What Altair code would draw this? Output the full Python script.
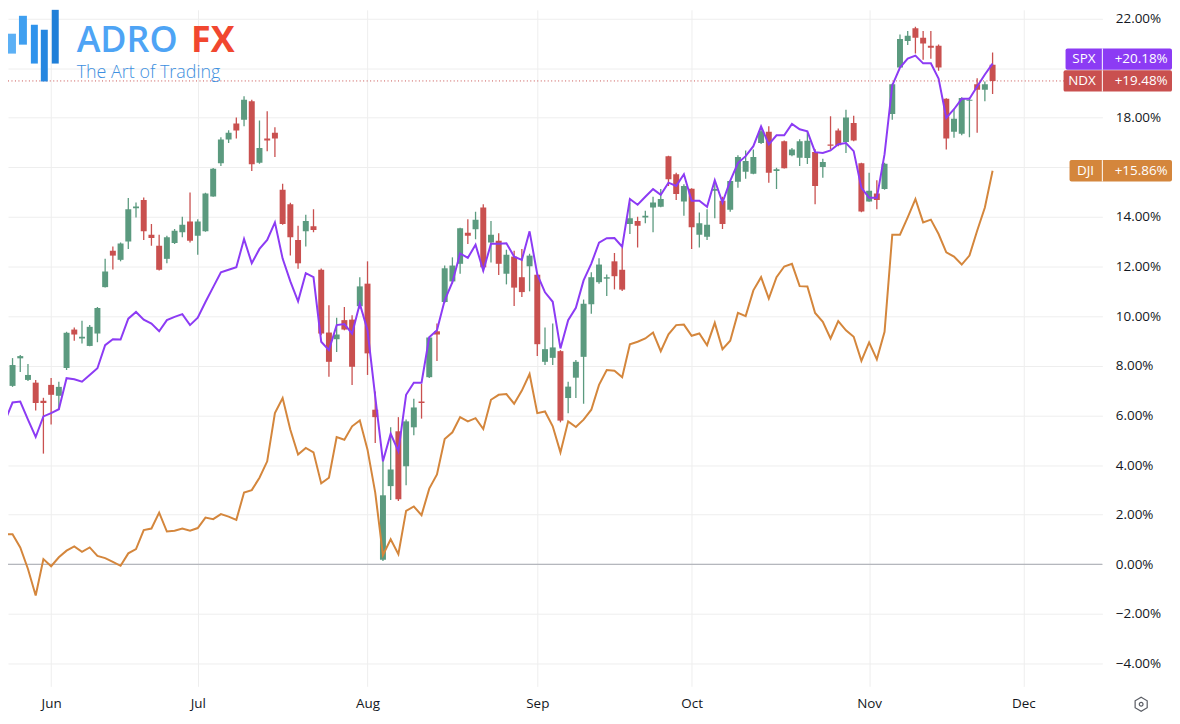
import altair as alt
import pandas as pd

# ---------------- data (percent change) ----------------
ndx_open = [8.60, 7.19, 8.30, 7.43, 7.32, 6.59, 7.23, 6.79, 7.91, 9.46,
            9.10, 8.80, 9.30, 11.17, 12.64, 12.27, 13.01, 14.35, 14.68, 13.28,
            12.84, 12.31, 12.95, 13.38, 13.82, 13.24, 13.42, 14.82, 16.16, 17.12,
            17.76, 17.92, 18.66, 16.18, 17.16, 17.39, 15.09, 14.51, 13.07, 13.42,
            13.62, 11.87, 9.34, 9.07, 9.84, 9.86, 10.40, 11.31, 6.23, 0.18,
            3.15, 5.36, 3.95, 5.52, 6.56, 7.54, 9.39, 10.57, 11.40, 12.11,
            13.36, 13.50, 14.38, 12.97, 13.04, 11.71, 12.40, 11.57, 12.01, 11.67,
            8.16, 8.32, 8.59, 6.70, 7.52, 8.36, 10.48, 11.37, 11.51, 12.21,
            11.87, 13.71, 13.84, 13.98, 14.38, 14.41, 16.45, 15.72, 14.62, 15.14,
            13.28, 13.20, 15.05, 14.65, 14.29, 15.42, 15.82, 15.74, 16.98, 17.43,
            15.85, 17.05, 16.49, 16.38, 16.37, 16.62, 16.01, 16.92, 17.48, 17.02,
            17.79, 16.16, 14.62, 14.94, 15.12, 18.15, 20.02, 21.09, 21.60, 21.22,
            20.90, 20.90, 18.76, 17.43, 17.35, 18.68, 19.35, 19.13, 20.13]
ndx_high = [8.71, 8.31, 8.43, 8.07, 7.43, 6.71, 7.51, 7.36, 9.37, 9.54,
            9.81, 9.64, 10.37, 12.31, 12.81, 12.97, 14.76, 14.58, 14.78, 13.71,
            13.28, 13.24, 13.51, 14.01, 14.98, 13.91, 14.97, 15.97, 17.21, 17.49,
            18.01, 18.86, 18.72, 17.89, 18.26, 17.61, 15.34, 14.57, 13.64, 14.09,
            14.31, 11.92, 10.44, 9.94, 10.37, 10.04, 11.57, 12.21, 6.96, 4.22,
            5.52, 5.93, 5.83, 6.67, 7.27, 9.17, 9.70, 12.04, 12.37, 13.56,
            13.91, 14.21, 14.51, 13.84, 13.34, 12.68, 12.64, 12.71, 12.52, 11.72,
            9.54, 9.70, 8.63, 7.36, 8.23, 10.67, 11.77, 12.33, 11.68, 12.55,
            12.77, 14.58, 14.01, 14.25, 14.81, 15.12, 16.47, 15.78, 15.32, 15.16,
            14.18, 14.31, 15.45, 14.81, 15.48, 16.49, 16.68, 16.72, 17.65, 17.65,
            15.98, 17.08, 16.78, 17.13, 17.45, 16.73, 16.34, 18.06, 17.56, 18.32,
            18.08, 16.18, 15.78, 15.48, 16.18, 19.38, 21.35, 21.49, 21.66, 21.49,
            21.49, 20.95, 18.78, 18.36, 18.82, 18.82, 19.59, 19.46, 20.63]
ndx_low = [6.83, 7.15, 7.75, 7.39, 6.20, 4.46, 5.63, 6.23, 7.83, 9.01,
           8.90, 8.79, 8.95, 11.16, 11.88, 12.21, 12.71, 13.98, 13.07, 12.84,
           11.84, 12.13, 12.91, 13.18, 12.97, 12.48, 13.40, 14.81, 16.05, 16.98,
           17.16, 17.65, 15.85, 16.14, 16.65, 16.41, 13.68, 12.44, 11.91, 12.81,
           13.38, 9.23, 7.56, 8.56, 9.43, 7.23, 10.30, 7.63, 4.89, 0.13,
           2.59, 2.55, 3.18, 5.20, 5.87, 7.51, 8.19, 10.53, 11.31, 11.71,
           12.91, 13.10, 11.80, 12.16, 11.66, 11.28, 10.41, 10.77, 11.00, 8.39,
           8.03, 8.03, 5.72, 6.09, 6.70, 6.47, 10.10, 11.31, 10.81, 11.08,
           11.01, 13.31, 12.77, 13.74, 13.38, 14.39, 15.25, 14.68, 14.05, 12.71,
           12.77, 13.07, 13.95, 13.51, 14.21, 15.18, 15.54, 15.72, 16.94, 15.38,
           15.12, 15.95, 16.45, 16.05, 16.13, 14.51, 15.58, 16.72, 16.85, 16.58,
           17.05, 14.19, 14.61, 14.31, 15.09, 17.92, 20.00, 20.93, 20.59, 20.33,
           20.37, 19.89, 16.72, 17.19, 17.29, 17.21, 17.39, 18.66, 18.95]
ndx_close = [6.96, 8.03, 8.39, 7.63, 6.50, 6.50, 6.83, 7.15, 9.33, 9.26,
             9.17, 9.57, 10.33, 11.80, 12.44, 12.93, 14.31, 14.42, 13.42, 13.15,
             11.87, 13.18, 13.44, 13.68, 13.04, 13.82, 14.94, 15.94, 17.12, 17.39,
             17.48, 18.72, 16.12, 16.78, 17.08, 17.16, 13.71, 13.18, 12.13, 13.84,
             13.47, 9.30, 8.16, 9.26, 9.46, 7.96, 11.20, 8.50, 5.93, 2.78,
             3.82, 2.62, 5.76, 6.32, 6.50, 9.14, 9.26, 11.93, 12.04, 13.54,
             13.24, 13.89, 11.97, 13.28, 12.11, 12.48, 11.15, 10.97, 12.44, 8.87,
             8.67, 8.74, 5.79, 7.16, 8.16, 10.50, 11.57, 12.08, 11.57, 11.61,
             11.07, 13.95, 13.64, 14.05, 14.58, 14.72, 15.52, 14.92, 15.25, 13.58,
             13.74, 13.68, 15.12, 13.71, 15.45, 16.41, 16.25, 16.41, 17.45, 15.78,
             15.92, 15.96, 16.72, 17.05, 17.07, 15.25, 16.21, 16.87, 16.89, 18.01,
             17.08, 14.22, 15.05, 14.68, 16.14, 19.35, 21.17, 21.30, 21.22, 20.99,
             20.82, 20.02, 17.16, 17.96, 18.79, 18.72, 19.13, 19.35, 19.48]
spx = [5.76, 6.52, 6.56, 5.83, 5.13, 5.96, 6.09, 6.25, 7.50, 7.46,
       7.36, 7.63, 7.90, 8.83, 9.07, 9.06, 9.90, 10.17, 9.86, 9.70,
       9.39, 9.84, 9.97, 10.08, 9.64, 9.94, 10.57, 11.17, 11.77, 11.87,
       11.97, 13.11, 12.13, 12.71, 13.07, 13.78, 12.32, 11.40, 10.60, 11.73,
       11.57, 8.97, 8.63, 9.64, 9.68, 9.30, 10.50, 9.43, 6.76, 4.15,
       5.26, 4.56, 6.83, 7.32, 7.32, 9.15, 9.43, 10.64, 11.37, 12.53,
       12.35, 12.88, 11.83, 12.92, 12.92, 12.94, 12.40, 12.27, 13.42, 11.68,
       10.96, 10.58, 8.70, 9.84, 10.34, 11.44, 12.12, 12.96, 13.14, 13.15,
       12.80, 14.72, 14.49, 14.81, 15.12, 14.89, 15.38, 15.25, 15.72, 14.65,
       14.65, 14.41, 15.48, 14.58, 15.45, 16.17, 16.45, 16.85, 17.65, 16.92,
       17.29, 17.29, 17.75, 17.53, 17.45, 16.61, 16.58, 16.68, 16.93, 16.98,
       16.65, 15.17, 14.77, 14.77, 16.53, 19.30, 20.02, 20.38, 20.50, 20.19,
       20.19, 19.58, 17.99, 18.34, 18.76, 18.76, 19.26, 19.74, 20.18]
dji = [1.21, 1.21, 0.68, -0.19, -1.26, 0.21, -0.08, 0.28, 0.55, 0.72,
       0.50, 0.68, 0.34, 0.25, 0.10, -0.06, 0.44, 0.61, 1.38, 1.44,
       2.08, 1.32, 1.35, 1.44, 1.35, 1.46, 1.88, 1.82, 2.02, 1.92,
       1.79, 2.89, 2.99, 3.49, 4.15, 6.09, 6.70, 5.42, 4.42, 4.69,
       4.51, 3.26, 3.49, 5.13, 5.02, 5.56, 5.80, 4.62, 2.89, 0.37,
       1.01, 0.41, 2.15, 2.33, 1.98, 3.05, 3.62, 5.05, 5.32, 5.93,
       5.76, 5.89, 5.45, 6.63, 6.83, 6.86, 6.47, 7.00, 7.67, 6.09,
       6.16, 5.56, 4.51, 5.76, 5.53, 5.83, 6.23, 7.23, 7.83, 7.80,
       7.54, 8.87, 8.97, 9.10, 9.34, 8.59, 9.27, 9.64, 9.66, 9.21,
       9.30, 8.83, 9.73, 8.67, 9.01, 10.13, 10.00, 11.04, 11.57, 10.71,
       11.57, 12.00, 12.11, 11.21, 11.20, 10.13, 9.77, 9.10, 9.80, 9.43,
       9.17, 8.20, 8.94, 8.26, 9.37, 13.28, 13.28, 13.98, 14.72, 13.78,
       13.89, 13.31, 12.57, 12.40, 12.08, 12.44, 13.44, 14.38, 15.86]

month_ticks = [6, 25, 47, 69, 89, 112, 132]
month_labels = ["Jun", "Jul", "Aug", "Sep", "Oct", "Nov", "Dec"]
y_ticks = [-4, -2, 0, 2, 4, 6, 8, 10, 12, 14, 16, 18, 20, 22]
hidden_ticks = [16, 20]   # covered by the price badges in the reference

badge_names = ["SPX", "NDX", "DJI"]
badge_values = [20.18, 19.48, 15.86]
badge_texts = ["+20.18%", "+19.48%", "+15.86%"]

# ---------------- styles ----------------
GREEN = "#5b9a7f"
RED = "#c9504f"
PURPLE = "#8c3bf4"
ORANGE = "#d4863c"
GRID = "#eeeeee"
TXT = "#131722"
FONT = "Open Sans"
W, H = 1100, 680

df = pd.DataFrame({
    "i": list(range(len(ndx_close))),
    "open": ndx_open, "high": ndx_high, "low": ndx_low, "close": ndx_close,
    "spx": spx, "dji": dji,
})

x_expr = " : ".join(f"datum.value == {t} ? '{l}'" for t, l in zip(month_ticks, month_labels)) + " : ''"
hide_expr = " || ".join(f"datum.value == {h}" for h in hidden_ticks)
x_scale = alt.Scale(domain=[1.0565, 141.58], nice=False, zero=False)
x_axis = alt.Axis(values=month_ticks, labelExpr=x_expr, grid=True, gridColor=GRID,
                  domain=False, ticks=False, labelPadding=10, labelFontSize=13.5,
                  labelFont=FONT, labelColor=TXT, title=None, labelFlush=False)
y_scale = alt.Scale(domain=[-4.92, 22.346], nice=False, zero=False)
y_axis = alt.Axis(orient="right", values=y_ticks,
                  labelExpr=f"({hide_expr}) ? '' : format(datum.value, '.2f') + '%'",
                  grid=True, gridColor=GRID, domain=False, ticks=False, labelPadding=13,
                  labelFontSize=13.5, labelFont=FONT, labelColor=TXT, title=None,
                  labelFlush=False)

X = alt.X("i:Q", scale=x_scale, axis=x_axis)


def Y(field):
    return alt.Y(field, scale=y_scale, axis=y_axis)


up = alt.condition("datum.close >= datum.open", alt.value(GREEN), alt.value(RED))

base = alt.Chart(df)
wicks = base.mark_rule(strokeWidth=1.3, clip=True).encode(x=X, y=Y("low:Q"), y2="high:Q", color=up)
bodies = base.mark_bar(size=6, clip=True).encode(x=X, y=Y("open:Q"), y2="close:Q", color=up)
spx_line = base.mark_line(color=PURPLE, strokeWidth=2, clip=True).encode(x=X, y=Y("spx:Q"))
dji_line = base.mark_line(color=ORANGE, strokeWidth=2, clip=True).encode(x=X, y=Y("dji:Q"))

zero_df = pd.DataFrame({"v": [0.0]})
zero_rule = alt.Chart(zero_df).mark_rule(color="#a3a6ad", strokeWidth=1).encode(y=Y("v:Q"))

last_df = pd.DataFrame({"v": [ndx_close[-1]]})
dotted = alt.Chart(last_df).mark_rule(color=RED, strokeWidth=1, strokeDash=[1, 2.5]).encode(
    x=alt.value(0), x2=alt.value(1062), y=Y("v:Q"))

# ---------------- badges on the price scale ----------------
badge_colors = [PURPLE, RED, ORANGE]
badge_left = [1063, 1061, 1067]
badge_shift = [-4.5, 0, 0]
name_center = [1081.5, 1079.5, 1083]
half = 0.43
badge_layers = []
for nm, val, txt, col, lft, sh, nc in zip(badge_names, badge_values, badge_texts,
                                          badge_colors, badge_left, badge_shift, name_center):
    bd = pd.DataFrame({"top": [val + half], "bot": [val - half], "v": [val]})
    c = alt.Chart(bd)
    badge_layers.append(c.mark_rect(color=col, cornerRadius=2, yOffset=sh, y2Offset=sh).encode(
        x=alt.value(lft), x2=alt.value(1170), y=Y("top:Q"), y2="bot:Q"))
    badge_layers.append(c.mark_rule(color="white", strokeWidth=1, yOffset=sh, y2Offset=sh).encode(
        x=alt.value(1100), y=Y("top:Q"), y2="bot:Q"))
    badge_layers.append(c.mark_text(text=nm, color="white", font=FONT, fontSize=13.5,
                                    align="center", baseline="middle", dy=sh).encode(
        x=alt.value(nc), y=Y("v:Q")))
    badge_layers.append(c.mark_text(text=txt, color="white", font=FONT, fontSize=13.5,
                                    align="center", baseline="middle", dy=sh).encode(
        x=alt.value(1139), y=Y("v:Q")))

# ---------------- logo watermark & settings icon ----------------
one = pd.DataFrame({"a": [0]})
logo = []
for (x0, x1, y0, y1, col) in [(0, 8, 24, 44, "#5cb0f5"), (11, 19, 6, 35, "#3f9ff0"),
                              (23, 30, 15, 54, "#2f93ec"), (33, 40, 20, 72, "#2687e0"),
                              (44, 51, 0, 54, "#1f7fd8")]:
    logo.append(alt.Chart(one).mark_rect(color=col).encode(
        x=alt.value(x0), x2=alt.value(x1), y=alt.value(y0), y2=alt.value(y1)))
logo.append(alt.Chart(one).mark_text(text="ADRO", font=FONT, fontSize=36, fontWeight=600,
                                     color="#4ea4f5", align="left", baseline="alphabetic").encode(
    x=alt.value(69), y=alt.value(42)))
logo.append(alt.Chart(one).mark_text(text="FX", font=FONT, fontSize=36, fontWeight=700,
                                     color="#f1472f", align="left", baseline="alphabetic").encode(
    x=alt.value(184), y=alt.value(42)))
logo.append(alt.Chart(one).mark_text(text="The Art of Trading", font=FONT, fontSize=18,
                                     fontWeight=300, color="#3d8fe0", align="left",
                                     baseline="alphabetic").encode(
    x=alt.value(69), y=alt.value(69)))

hexagon = "M0,-1L0.866,-0.5L0.866,0.5L0,1L-0.866,0.5L-0.866,-0.5Z"
icon = [
    alt.Chart(one).mark_point(shape=hexagon, size=196, filled=False, color=TXT, strokeWidth=1.2).encode(
        x=alt.value(1139), y=alt.value(698)),
    alt.Chart(one).mark_point(shape="circle", size=14, filled=False, color=TXT, strokeWidth=1.2).encode(
        x=alt.value(1139), y=alt.value(698)),
]

chart = alt.layer(
    zero_rule, wicks, bodies, spx_line, dji_line, dotted, *logo, *badge_layers, *icon
).properties(
    width=W, height=H,
    autosize=alt.AutoSizeParams(type="none"),
    padding={"left": 0, "top": 0, "right": 70, "bottom": 36},
    background="white",
).configure_view(stroke=None)

chart.save("out.html", embed_options={"renderer": "svg", "actions": False})
